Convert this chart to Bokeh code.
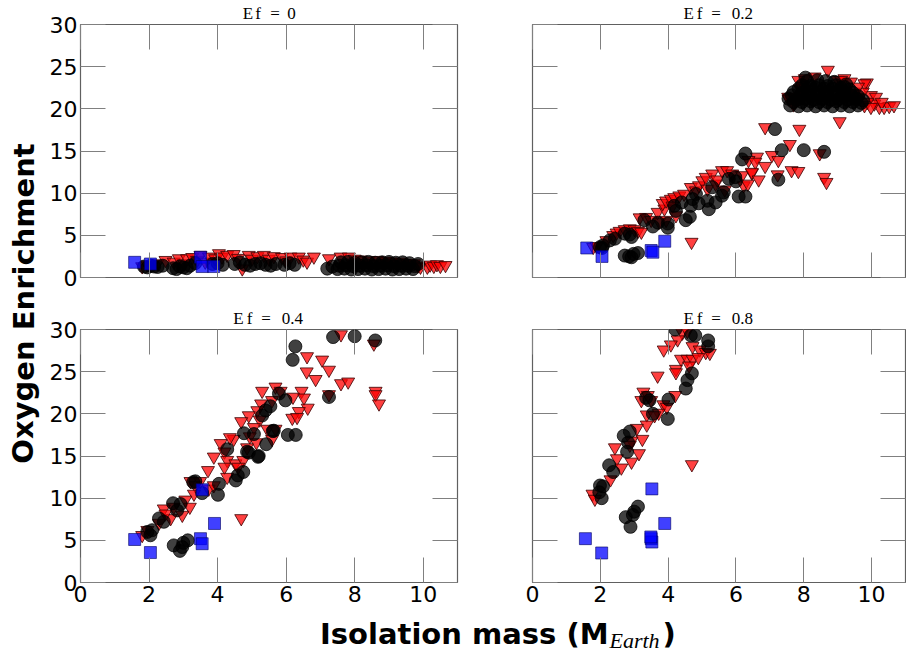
from bokeh.plotting import figure
from bokeh.layouts import row, column
from bokeh.models import Range1d, LinearAxis, FixedTicker, Label
from bokeh.embed import file_html
from bokeh.resources import INLINE

# ---------------- data ----------------
x_ticks = [0, 2, 4, 6, 8, 10]
y_ticks = [0, 5, 10, 15, 20, 25, 30]
titles = ["0", "0.2", "0.4", "0.8"]

# E_f = 0
blue0_x = [1.58, 2.04, 3.5, 3.55, 3.89]
blue0_y = [1.8, 1.6, 2.4, 1.3, 1.3]
black0_x = [1.85, 1.95, 2.05, 2.15, 2.25, 2.4, 2.7, 2.8, 2.9, 3.0, 3.1, 3.2, 3.35, 3.85, 4.0,
            4.15, 4.5, 4.65, 4.8, 4.95, 5.1, 5.25, 5.4, 5.55, 5.7, 5.95, 6.1, 6.25, 7.2, 7.35,
            7.5, 7.7, 7.9, 8.1, 8.3, 8.5, 8.7, 8.9, 9.1, 9.3, 9.5, 9.7,
            7.55, 7.75, 7.95, 8.15, 8.35, 8.55, 8.75, 8.95, 9.15, 9.35, 9.55, 9.75,
            7.6, 7.8, 8.0, 8.2, 8.4, 8.6, 8.8, 9.0, 9.2, 9.4, 9.6, 9.85]
black0_y = [1.3, 1.2, 1.4, 1.3, 1.25, 1.4, 1.1, 1.0, 1.3, 1.2, 1.1, 1.4, 1.7, 1.6, 1.7,
            1.5, 1.6, 1.8, 1.5, 1.4, 1.6, 1.7, 1.5, 1.4, 1.6, 1.5, 1.7, 1.5, 1.05, 1.3,
            1.0, 1.05, 0.95, 1.0, 1.05, 0.95, 1.0, 1.05, 0.95, 1.0, 1.05, 1.0,
            1.4, 1.45, 1.35, 1.4, 1.45, 1.35, 1.4, 1.45, 1.35, 1.4, 1.4, 1.35,
            1.8, 1.85, 1.75, 1.8, 1.85, 1.75, 1.8, 1.85, 1.75, 1.8, 1.7, 1.6]
red0_x = [1.8, 1.95, 2.24, 2.48, 2.72, 2.87, 3.02, 3.11, 3.26, 3.4, 3.5, 3.64, 3.75, 3.93, 4.04,
          4.13, 4.28, 4.47, 4.6, 4.72, 4.91, 5.0, 5.16, 5.35, 5.5, 5.64, 5.88, 6.0, 6.13, 6.37,
          6.5, 6.61, 6.81, 7.25, 7.59, 7.83, 8.0, 8.17, 8.4, 8.66, 8.9, 9.05, 9.34, 9.55, 9.73,
          9.85, 9.92, 10.12, 10.2, 10.31, 10.4, 10.5, 10.65]
red0_y = [1.3, 1.5, 1.65, 2.05, 1.85, 2.25, 1.65, 2.25, 2.4, 2.05, 2.65, 1.85, 2.45, 2.25, 2.85,
          2.45, 2.65, 2.75, 2.3, 1.05, 2.65, 2.2, 2.5, 2.65, 2.2, 2.5, 2.4, 2.0, 2.45, 2.45,
          2.1, 1.85, 2.45, 2.25, 2.45, 2.45, 2.2, 2.1, 2.0, 2.05, 1.95, 1.85, 1.85, 1.7, 1.65,
          1.4, 1.25, 1.25, 1.5, 1.35, 1.55, 1.35, 1.45]

# E_f = 0.2
blue2_x = [1.6, 2.05, 3.5, 3.55, 3.9]
blue2_y = [3.5, 2.5, 3.2, 3.0, 4.3]
black2_x = [1.99, 2.08, 2.05, 2.28, 2.43, 2.72, 2.87, 2.92, 2.72, 2.92, 3.11, 2.98, 2.85, 3.3,
            3.55, 3.99, 3.99, 4.18, 4.23, 4.52, 4.64, 4.67, 4.72, 4.82, 5.2, 5.16, 5.3, 5.4,
            5.59, 5.64, 5.79, 5.98, 6.08, 6.28, 6.18, 6.28, 7.15, 7.35, 8.0, 8.6, 7.25, 6.0,
            4.9, 3.7, 4.4,
            7.6, 7.85, 8.1, 8.35, 8.6, 8.85, 9.1, 9.35, 9.6,
            7.7, 7.95, 8.2, 8.45, 8.7, 8.95, 9.2, 9.45, 9.7,
            7.55, 7.8, 8.05, 8.3, 8.55, 8.8, 9.05, 9.3, 9.55, 9.75,
            7.65, 7.9, 8.15, 8.4, 8.65, 8.9, 9.15, 9.4, 9.6,
            7.7, 7.95, 8.2, 8.45, 8.7, 8.95, 9.2, 9.45,
            7.85, 8.1, 8.35, 8.6, 8.85, 9.1, 9.35,
            7.95, 8.2, 8.45, 8.7, 8.95, 9.2,
            8.1, 8.4, 8.65, 8.9, 8.05, 9.25]
black2_y = [3.6, 3.8, 3.5, 4.4, 4.6, 5.2, 5.1, 4.8, 2.6, 2.4, 2.9, 2.8, 2.5, 6.8,
            6.05, 6.4, 5.9, 8.5, 7.9, 6.8, 7.2, 8.5, 9.3, 9.9, 8.1, 9.1, 10.7, 8.9,
            9.7, 10.1, 11.7, 11.9, 9.6, 9.6, 14.0, 14.7, 17.6, 15.1, 15.1, 14.9, 11.6, 11.4,
            8.8, 6.5, 8.9,
            20.4, 20.3, 20.4, 20.3, 20.4, 20.3, 20.4, 20.3, 20.4,
            20.8, 20.8, 20.9, 20.8, 20.8, 20.9, 20.8, 20.8, 20.7,
            21.2, 21.1, 21.2, 21.1, 21.2, 21.1, 21.2, 21.1, 21.2, 21.0,
            21.6, 21.6, 21.7, 21.6, 21.6, 21.7, 21.6, 21.6, 21.5,
            22.0, 21.9, 22.0, 21.9, 22.0, 21.9, 22.0, 21.9,
            22.4, 22.4, 22.5, 22.4, 22.4, 22.5, 22.3,
            22.8, 22.7, 22.8, 22.7, 22.8, 22.6,
            23.3, 23.4, 23.3, 23.2, 23.7, 22.9]
red2_x = [1.79, 1.89, 2.18, 2.38, 2.48, 2.57, 2.72, 2.87, 3.01, 3.11, 3.21, 3.16, 3.35, 3.5,
          3.74, 3.94, 3.69, 3.89, 3.84, 3.94, 4.08, 4.18, 4.23, 4.13, 4.33, 4.47, 4.67, 4.82,
          4.91, 5.01, 5.11, 5.3, 5.16, 5.4, 5.45, 5.67, 5.59, 5.74, 5.89, 6.18, 6.23, 6.35,
          6.47, 4.69, 6.86, 7.87, 7.59, 8.47, 6.62, 7.06, 7.25, 7.64, 7.84, 6.37, 6.57, 6.86,
          6.47, 6.67, 7.23, 8.6, 8.67,
          8.71, 8.03, 8.32, 9.0, 9.2, 9.39, 7.98, 7.89, 7.54, 9.1, 9.86, 7.84, 7.55, 9.79,
          9.98, 10.13, 10.23, 10.37, 10.52, 10.66, 10.08, 9.88, 9.74, 9.59, 9.79, 9.98, 9.06,
          9.6, 9.5, 7.7, 10.3]
red2_y = [3.6, 3.7, 4.4, 5.0, 5.3, 5.5, 5.7, 5.8, 5.7, 5.5, 5.4, 7.1, 7.15, 6.8,
          6.6, 6.8, 7.75, 8.15, 8.8, 9.1, 9.3, 9.5, 7.35, 8.5, 9.7, 9.9, 10.7, 10.3,
          10.9, 11.5, 11.9, 12.3, 10.5, 11.1, 11.6, 10.4, 12.7, 12.7, 12.3, 12.1, 10.9, 11.1,
          12.4, 4.2, 17.8, 17.6, 15.8, 14.7, 14.3, 14.5, 13.9, 12.7, 12.6, 13.9, 13.7, 13.2,
          12.5, 11.6, 12.2, 11.9, 11.3,
          24.6, 23.6, 23.8, 23.4, 23.6, 23.2, 22.8, 22.4, 21.4, 23.4, 23.1, 23.4, 21.2, 23.0,
          21.6, 21.4, 20.2, 20.2, 20.3, 20.4, 20.6, 20.8, 22.0, 21.4, 20.4, 20.2, 18.5,
          22.6, 21.8, 20.5, 20.8]

# E_f = 0.4
blue4_x = [1.58, 2.04, 3.55, 3.91, 3.5, 3.55]
blue4_y = [5.1, 3.55, 11.0, 7.0, 5.2, 4.6]
black4_x = [7.37, 8.0, 8.6, 6.27, 6.19, 7.25, 5.79, 5.98, 6.05, 6.28, 5.64, 5.54, 5.4, 5.3,
            5.42, 5.18, 5.06, 4.77, 4.91, 4.75, 4.59, 4.53, 4.28, 4.04, 4.01, 3.55, 3.29, 2.92,
            2.7, 2.82, 2.29, 2.43, 2.09, 2.04, 1.95, 2.72, 2.9, 3.0, 3.13, 2.97, 4.86, 5.61,
            3.35, 5.2]
black4_y = [29.1, 29.2, 28.7, 28.0, 26.4, 22.0, 22.4, 21.6, 17.5, 17.5, 18.0, 20.9, 20.4, 19.8,
            16.4, 14.9, 17.6, 17.7, 15.4, 13.1, 12.7, 12.1, 15.8, 11.7, 10.4, 10.6, 11.9, 9.3,
            9.4, 8.55, 7.6, 7.2, 6.2, 5.6, 6.0, 4.4, 3.75, 4.7, 5.0, 4.2, 15.5, 17.95,
            12.0, 15.0]
red4_x = [7.6, 8.56, 6.61, 7.05, 7.25, 6.6, 6.86, 7.6, 7.81, 8.61, 8.61, 8.71, 7.25, 6.45,
          6.52, 6.63, 6.37, 6.18, 6.32, 6.2, 5.3, 5.69, 5.84, 5.59, 5.27, 5.16, 4.91, 4.69,
          5.23, 5.45, 5.69, 5.59, 5.06, 4.94, 5.13, 4.86, 4.47, 4.36, 4.09, 4.2, 3.89, 4.28,
          4.52, 4.75, 4.6, 4.2, 4.28, 3.72, 3.21, 3.49, 3.35, 3.74, 3.89, 3.31, 3.06, 3.19,
          2.97, 2.72, 2.63, 2.43, 2.48, 2.29, 4.69, 1.8, 1.95]
red4_y = [29.4, 28.3, 26.8, 26.4, 25.2, 25.0, 24.1, 23.6, 23.8, 22.7, 22.3, 21.2, 22.3, 22.7,
          21.9, 20.7, 20.3, 19.5, 19.6, 22.0, 22.7, 23.2, 22.7, 21.6, 21.2, 20.4, 19.8, 19.1,
          19.3, 18.2, 18.2, 17.0, 18.4, 17.3, 16.6, 16.0, 17.0, 17.2, 16.5, 15.5, 14.9, 14.5,
          14.1, 14.5, 13.7, 13.7, 12.5, 13.3, 12.0, 12.0, 11.5, 11.1, 11.5, 10.5, 9.8, 8.95,
          8.0, 8.95, 7.6, 8.75, 8.15, 7.05, 7.6, 5.6, 6.2]

# E_f = 0.8
blue8_x = [1.56, 2.04, 3.52, 3.9, 3.5, 3.52, 3.49]
blue8_y = [5.2, 3.5, 11.1, 7.0, 5.2, 4.8, 5.4]
black8_x = [4.21, 4.67, 4.8, 5.18, 5.18, 4.7, 4.57, 4.52, 4.01, 3.99, 3.35, 3.45, 3.55, 2.87,
            2.69, 2.82, 2.79, 2.26, 2.38, 1.99, 2.08, 1.97, 2.04, 3.11, 2.96, 2.75, 2.89, 3.0]
black8_y = [30.0, 29.3, 29.3, 28.7, 28.0, 24.8, 24.0, 23.0, 21.7, 19.4, 21.9, 21.6, 20.0, 17.9,
            17.4, 16.6, 15.5, 13.9, 13.1, 11.5, 11.4, 10.7, 10.0, 9.0, 8.0, 7.75, 6.6, 8.4]
red8_x = [4.42, 4.57, 4.28, 4.08, 3.87, 4.72, 4.93, 5.11, 5.23, 4.38, 4.57, 4.72, 4.89, 4.23,
          4.23, 4.62, 3.69, 3.27, 3.21, 3.5, 3.4, 4.21, 3.86, 3.96, 3.72, 3.37, 3.6, 3.37,
          3.08, 3.24, 2.92, 2.87, 2.43, 3.14, 2.49, 2.92, 2.62, 2.3, 1.77, 1.84, 4.7]
red8_y = [29.6, 29.8, 28.8, 28.2, 27.6, 28.0, 27.6, 27.3, 27.2, 26.5, 26.5, 26.5, 26.7, 25.3,
          24.9, 25.7, 24.5, 22.6, 21.6, 21.6, 22.2, 22.2, 21.1, 20.8, 20.1, 19.9, 19.8, 18.7,
          18.3, 17.0, 16.8, 16.3, 16.0, 15.3, 14.7, 14.3, 13.6, 12.2, 10.5, 9.9, 14.0]

panels = [
    (blue0_x, blue0_y, black0_x, black0_y, red0_x, red0_y),
    (blue2_x, blue2_y, black2_x, black2_y, red2_x, red2_y),
    (blue4_x, blue4_y, black4_x, black4_y, red4_x, red4_y),
    (blue8_x, blue8_y, black8_x, black8_y, red8_x, red8_y),
]

TICK_FONT = "DejaVu Sans"
TICK_GRAY = "#808080"


def make_axis(ticks, labeled):
    ax = LinearAxis(ticker=FixedTicker(ticks=ticks))
    ax.axis_line_color = None
    ax.major_tick_in = 25
    ax.major_tick_out = 0
    ax.major_tick_line_color = TICK_GRAY
    ax.major_tick_line_width = 1
    ax.minor_tick_line_color = None
    if labeled:
        ax.major_label_text_font = TICK_FONT
        ax.major_label_text_font_size = "22px"
        ax.major_label_text_color = "black"
        ax.major_label_standoff = 3
    else:
        ax.major_label_overrides = {t: "" for t in ticks}
        ax.major_label_text_font_size = "6px"
        ax.major_label_standoff = 0
    return ax


def title_axis(idx, ppu):
    # top axis: mirror ticks drawn as minor ticks, title pieces as major labels
    val = titles[idx]
    if len(val) == 1:
        offs = [-21.0, -11.0, 6.0, 22.5]
    else:
        offs = [-30.5, -19.5, -3.0, 23.5]
    pos = [round(5.5 + o / ppu, 4) for o in offs]
    texts = ["E", "f", "=", val]
    ax = LinearAxis(ticker=FixedTicker(ticks=pos, minor_ticks=x_ticks))
    ax.axis_line_color = None
    ax.major_tick_line_color = None
    ax.major_tick_in = 0
    ax.major_tick_out = 0
    ax.minor_tick_in = 25
    ax.minor_tick_out = 0
    ax.minor_tick_line_color = TICK_GRAY
    ax.minor_tick_line_width = 1
    ax.major_label_overrides = dict(zip(pos, texts))
    ax.major_label_text_font = "Liberation Serif"
    ax.major_label_text_font_size = "17px"
    ax.major_label_text_color = "black"
    ax.major_label_standoff = 2
    return ax


def make_panel(idx):
    top = idx < 2
    left = idx % 2 == 0
    bx, by, kx, ky, rx, ry = panels[idx]
    p = figure(width=454 if left else 412, height=303 if top else 309,
               x_range=Range1d(0, 11), y_range=Range1d(0, 30),
               x_axis_type=None, y_axis_type=None,
               output_backend="svg", toolbar_location=None,
               min_border_left=40 if left else 38,
               min_border_right=37 if left else 1,
               min_border_top=24 if top else 26,
               min_border_bottom=26 if top else 30)
    p.background_fill_color = "white"
    p.border_fill_color = "white"
    p.outline_line_color = "#606060"
    p.outline_line_width = 1.2

    p.add_layout(make_axis(x_ticks, not top), "below")
    p.add_layout(title_axis(idx, 34.3 if left else 34.2), "above")
    p.add_layout(make_axis(y_ticks, left), "left")
    p.add_layout(make_axis(y_ticks, False), "right")

    p.scatter(rx, ry, marker="inverted_triangle", size=13, fill_color="#ff0000",
              fill_alpha=0.75, line_color="#3a0000", line_alpha=0.8, line_width=1)
    p.scatter(kx, ky, marker="circle", size=13, fill_color="black", fill_alpha=0.75,
              line_color="black", line_alpha=0.75, line_width=1)
    p.scatter(bx, by, marker="square", size=12, fill_color="#0000ff", fill_alpha=0.75,
              line_color="#000060", line_alpha=0.6, line_width=1)
    return p


figs = [make_panel(i) for i in range(4)]

# shared y label
ylab = figure(width=40, height=652, x_range=Range1d(0, 40), y_range=Range1d(652, 0),
              x_axis_type=None, y_axis_type=None, output_backend="svg",
              toolbar_location=None, min_border=0, title=None)
ylab.outline_line_color = None
ylab.add_layout(Label(x=23, y=303, text="Oxygen Enrichment", angle=1.5707963,
                      text_font="DejaVu Sans", text_font_style="bold", text_font_size="29px",
                      text_color="black", text_align="center", text_baseline="middle"))

# shared x label
xlab = figure(width=866, height=40, x_range=Range1d(40, 906), y_range=Range1d(652, 612),
              x_axis_type=None, y_axis_type=None, output_backend="svg",
              toolbar_location=None, min_border=0, title=None)
xlab.outline_line_color = None
xlab.add_layout(Label(x=608, y=633, text="Isolation mass (M",
                      text_font="DejaVu Sans", text_font_style="bold", text_font_size="29px",
                      text_color="black", text_align="right", text_baseline="middle"))
xlab.add_layout(Label(x=609, y=640, text="Earth",
                      text_font="Liberation Serif", text_font_style="italic",
                      text_font_size="22px", text_color="black",
                      text_align="left", text_baseline="middle"))
xlab.add_layout(Label(x=662, y=633, text=")",
                      text_font="DejaVu Sans", text_font_style="bold", text_font_size="29px",
                      text_color="black", text_align="left", text_baseline="middle"))

layout = row(ylab, column(row(figs[0], figs[1]), row(figs[2], figs[3]), xlab))

open("out.html", "w").write(file_html(layout, INLINE))
